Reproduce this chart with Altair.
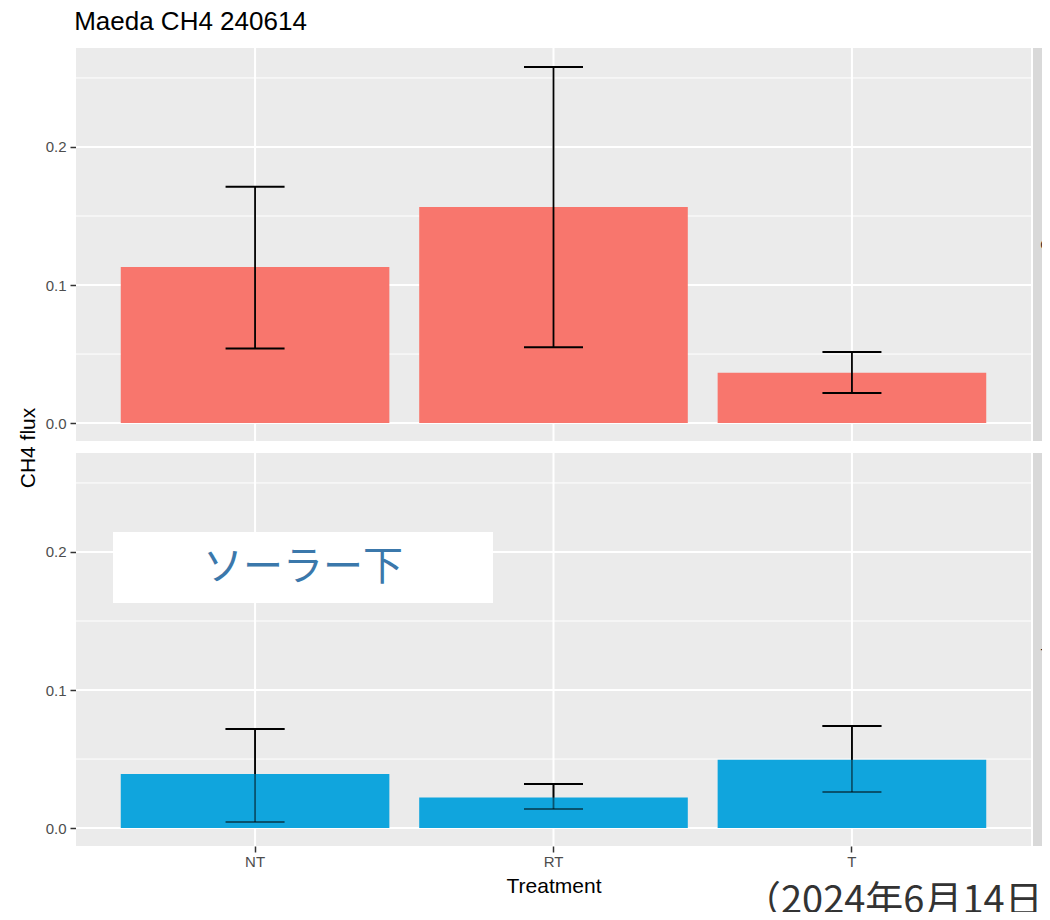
import altair as alt
import pandas as pd

# ---------------- data ----------------
treatments = ["NT", "RT", "T"]
top_mean = [0.113, 0.1565, 0.0365]
top_lower = [0.0541, 0.0550, 0.0217]
top_upper = [0.1712, 0.2580, 0.0514]
bottom_mean = [0.0391, 0.0222, 0.0495]
bottom_lower = [0.0043, 0.0138, 0.0261]
bottom_upper = [0.0717, 0.0319, 0.0739]
strip_labels = ["C", "T"]
y_breaks = [0.0, 0.1, 0.2]
y_minor = [0.05, 0.15, 0.25]
y_domain = [-0.013, 0.2717]
title_text = "Maeda CH4 240614"
annotation_text = ["ソーラー下"]
date_text = ["（2024年6月14日）"]

# ---------------- style ----------------
RED = "#F8766D"
BLUE = "#10A5DD"
PANEL_BG = "#EBEBEB"
STRIP_BG = "#D9D9D9"
FONT = "Liberation Sans"
JP = "Noto Sans CJK JP"
PW = 955          # plot panel width
VW = 966          # view width incl. gap + strip (clipped at page edge)
H = 393

xscale = alt.Scale(domain=treatments, range=[0, PW], paddingInner=0, paddingOuter=0.1)
yscale = alt.Scale(domain=y_domain, nice=False, zero=False)


def y_axis(show_title):
    kw = dict(values=y_breaks, format=".1f", grid=False,
              domain=False, tickColor="#333333", tickWidth=1.5, tickSize=6,
              labelColor="#4D4D4D", labelFontSize=15, labelFont=FONT, labelPadding=4)
    if show_title:
        kw.update(title="CH4 flux", titleFont=FONT, titleFontSize=21, titleFontWeight="normal",
                  titleColor="#000000", titlePadding=7, titleY=399.5)
    else:
        kw.update(title=None)
    return alt.Axis(**kw)


def x_axis(show):
    if show:
        return alt.Axis(grid=False, bandPosition=0.5,
                        domain=False, tickColor="#333333", tickWidth=1.5, tickSize=6,
                        labelAngle=0, labelColor="#4D4D4D", labelFontSize=15, labelFont=FONT,
                        labelPadding=2.5, title="Treatment", titleFont=FONT, titleFontSize=21,
                        titleFontWeight="normal", titleColor="#000000", titlePadding=5.5)
    return alt.Axis(grid=False, domain=False, ticks=False, labels=False, title=None)


def panel(mean, lower, upper, color, show_x, show_ytitle, overlay, strip_label):
    df = pd.DataFrame({"Treatment": treatments, "mean": mean, "lower": lower, "upper": upper})
    minor = pd.DataFrame({"v": y_minor})
    major = pd.DataFrame({"v": y_breaks})
    cats = pd.DataFrame({"Treatment": treatments})
    sd = pd.DataFrame({"s": [strip_label]})
    xa = x_axis(show_x)
    ya = y_axis(show_ytitle)
    X = alt.X("Treatment:N", scale=xscale, axis=xa, sort=treatments)

    bg = alt.Chart(sd).mark_rect(color=PANEL_BG).encode(
        x=alt.value(0), x2=alt.value(PW), y=alt.value(0), y2=alt.value(H))
    strip_bg = alt.Chart(sd).mark_rect(color=STRIP_BG).encode(
        x=alt.value(PW + 2), x2=alt.value(VW), y=alt.value(0), y2=alt.value(H))
    grid_minor = alt.Chart(minor).mark_rule(color="white", strokeWidth=1).encode(
        y=alt.Y("v:Q", scale=yscale, axis=ya), x=alt.value(0), x2=alt.value(PW))
    grid_major = alt.Chart(major).mark_rule(color="white", strokeWidth=2).encode(
        y=alt.Y("v:Q", scale=yscale, axis=ya), x=alt.value(0), x2=alt.value(PW))
    grid_x = alt.Chart(cats).mark_rule(color="white", strokeWidth=2).encode(x=X)
    bars = alt.Chart(df).mark_bar(color=color, width={"band": 0.9}).encode(
        x=X, y=alt.Y("mean:Q", scale=yscale, axis=ya))

    def errbars(opacity):
        base = alt.Chart(df)
        stem = base.mark_rule(color="black", strokeWidth=1.8, opacity=opacity).encode(
            x=X, y=alt.Y("lower:Q", scale=yscale, axis=ya), y2="upper:Q")
        cap_hi = base.mark_tick(color="black", thickness=2, size=59, opacity=opacity).encode(
            x=X, y=alt.Y("upper:Q", scale=yscale, axis=ya))
        cap_lo = base.mark_tick(color="black", thickness=2, size=59, opacity=opacity).encode(
            x=X, y=alt.Y("lower:Q", scale=yscale, axis=ya))
        return [stem, cap_hi, cap_lo]

    layers = [bg, strip_bg, grid_minor, grid_major, grid_x]
    if overlay:
        layers += errbars(1) + [bars] + errbars(0.5)
        ann = pd.DataFrame({"label": annotation_text})
        box = alt.Chart(ann).mark_rect(color="white").encode(
            x=alt.value(37), x2=alt.value(417), y=alt.value(79), y2=alt.value(150))
        txt = alt.Chart(ann).mark_text(font=JP, fontSize=40, color="#3B78AB",
                                       align="center", baseline="middle").encode(
            x=alt.value(227), y=alt.value(115), text="label:N")
        layers += [box, txt]
    else:
        layers += [bars] + errbars(1)

    strip_txt = alt.Chart(sd).mark_text(angle=90, fontSize=15, font=FONT, color="#1A1A1A",
                                        align="center", baseline="middle", clip=True).encode(
        x=alt.value(PW + 9.5 + 5), y=alt.value(H / 2), text="s:N")
    layers += [strip_txt]

    return alt.layer(*layers).properties(
        width=VW, height=H, view=alt.ViewBackground(fill="white", strokeWidth=0))


top = panel(top_mean, top_lower, top_upper, RED, False, True, False, strip_labels[0])
bottom = panel(bottom_mean, bottom_lower, bottom_upper, BLUE, True, False, True, strip_labels[1])

footer = alt.Chart(pd.DataFrame({"t": date_text})).mark_text(
    font=JP, fontSize=38, color="#333333", align="left", baseline="alphabetic", clip=True).encode(
    x=alt.value(667), y=alt.value(55), text="t:N").properties(
    width=VW, height=54, view=alt.ViewBackground(strokeWidth=0))

chart = alt.vconcat(top, bottom, footer, spacing=12, bounds="flush").properties(
    title=alt.TitleParams(text=title_text, anchor="start", font=FONT, fontSize=26,
                          fontWeight="normal", color="#000000", dx=57, offset=12,
                          baseline="top"),
    padding={"left": 9, "top": 1, "right": 0, "bottom": 0},
).configure_view(strokeWidth=0)

chart.save("out.html", embed_options={"renderer": "svg", "actions": False})
